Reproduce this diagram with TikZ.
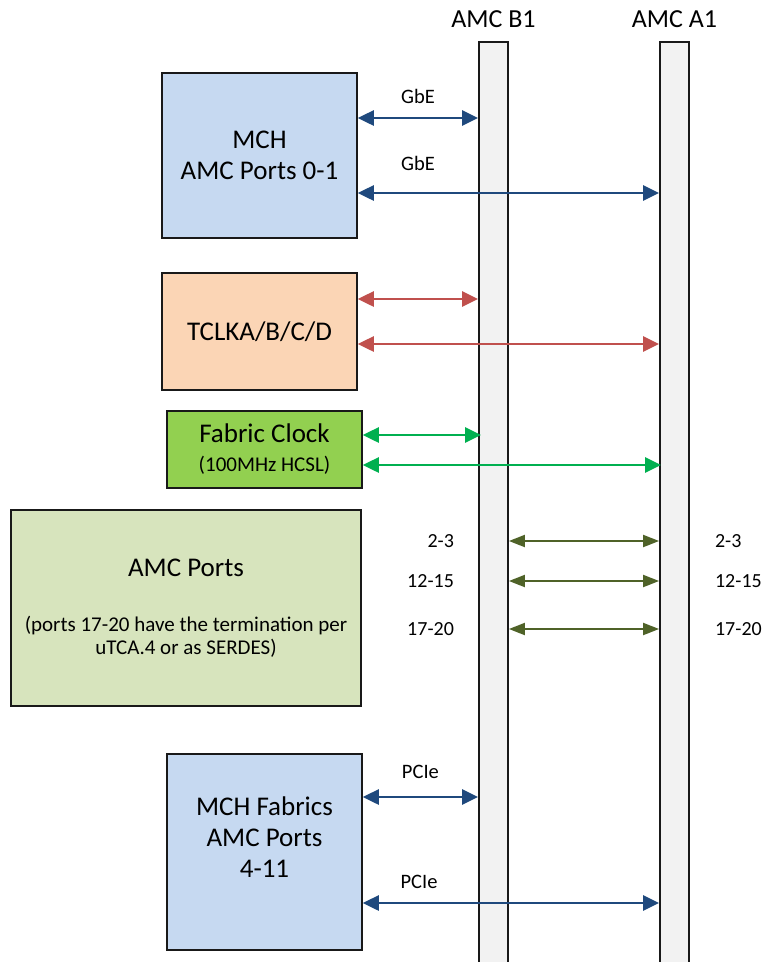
\documentclass[tikz,border=0pt]{standalone}
\usepackage{fontspec}
\setmainfont{Carlito}
\usetikzlibrary{arrows.meta,positioning}

\definecolor{mchblue}{HTML}{C6D9F1}
\definecolor{clkpeach}{HTML}{FBD5B5}
\definecolor{fabgreen}{HTML}{92D050}
\definecolor{portolive}{HTML}{D7E4BD}
\definecolor{slotgray}{HTML}{F2F2F2}
\definecolor{linkblue}{HTML}{1F497D}
\definecolor{linkred}{HTML}{C0504D}
\definecolor{linkgreen}{HTML}{00B050}
\definecolor{linkolive}{HTML}{4F6228}

\tikzset{
        block/.style={draw=black!90, line width=1.5pt, align=center, inner sep=0pt, font=\fontsize{27}{31}\selectfont},
        % MCH boxes
        block_mch/.style={block, fill=mchblue, minimum width=195pt},
        % Clock boxes
        block_tclk/.style={block, fill=clkpeach, minimum width=195pt, minimum height=117pt},
        block_fclk/.style={block, fill=fabgreen, minimum width=195pt, minimum height=77pt},
        % Port box
        block_ports/.style={block, fill=portolive, minimum width=350pt, minimum height=196pt, font=\fontsize{21}{23}\selectfont},
        % Slot bars
        slot/.style={draw=black!90, fill=slotgray, line width=1.8pt, minimum width=29pt, minimum height=940pt, inner sep=0pt},
        slot_name/.style={font=\fontsize{26}{30}\selectfont, inner sep=0pt},
        % Links
        link/.style={{Triangle[length=16pt,width=15pt]}-{Triangle[length=16pt,width=15pt]}, line width=2.5pt},
        link_thin/.style={{Triangle[length=16pt,width=12pt]}-{Triangle[length=16pt,width=12pt]}, line width=2pt},
        link_label/.style={font=\fontsize{20.5}{24}\selectfont, inner sep=0pt, text=black},
        port_num/.style={font=\fontsize{20}{24}\selectfont, inner sep=0pt, text=black}
}

\begin{document}
\begin{tikzpicture}[x=1pt, y=-1pt]
            \useasboundingbox (0,0) rectangle (764,962);

            % slots
            \node[slot] (barB) at (493.5,512) {};
            \node[slot] (barA) at (674.5,512) {};
            \node[slot_name, above=13pt of barB.north] (nameB) {AMC B1};
            \node[slot_name, above=13pt of barA.north] (nameA) {AMC A1};

            % boxes
            \node[block_mch, minimum height=165pt] (mch) at (259.5,155.5) {MCH\\AMC Ports 0-1};
            \node[block_tclk] (tclk) at (259.5,331.5) {TCLKA/B/C/D};
            \node[block_fclk] (fclk) at (264.5,449.5) {Fabric Clock\\[-2pt]{\fontsize{21}{24}\selectfont (100MHz HCSL)}};
            \node[block_ports] (ports) at (186,608) {{\fontsize{27}{31}\selectfont AMC Ports}\\[32pt](ports 17-20 have the termination per\\uTCA.4 or as SERDES)};
            \node[block_mch, minimum height=196pt] (mchfab) at (264.5,852) {};
            \node[block, draw=none] (mchfabtext) at ([yshift=15pt]mchfab.center) {MCH Fabrics\\AMC Ports\\4-11};

            % GbE
            \draw[link, linkblue] (mch.east |- 0,118) -- (barB.west |- 0,118) node[link_label, midway, above=13pt] {GbE};
            \draw[link, linkblue] (mch.east |- 0,193) -- (barA.west |- 0,193) node[link_label, pos=0.2, above=21pt] {GbE};

            % TCLK
            \draw[link, linkred] (tclk.east |- 0,299) -- (barB.west |- 0,299);
            \draw[link, linkred] (tclk.east |- 0,344) -- (barA.west |- 0,344);

            % fabric clock
            \draw[link, linkgreen] (fclk.east |- 0,435) -- ([xshift=3pt]barB.west |- 0,435);
            \draw[link, linkgreen] (fclk.east |- 0,465) -- ([xshift=2pt]barA.west |- 0,465);

            % AMC ports
            \draw[link_thin, linkolive] (barB.east |- 0,541) -- (barA.west |- 0,541)
                node[port_num, at start, left=54pt] {2-3} node[port_num, at end, right=55pt] {2-3};
            \draw[link_thin, linkolive] (barB.east |- 0,581) -- (barA.west |- 0,581)
                node[port_num, at start, left=54pt] {12-15} node[port_num, at end, right=55pt] {12-15};
            \draw[link_thin, linkolive] (barB.east |- 0,629) -- (barA.west |- 0,629)
                node[port_num, at start, left=54pt] {17-20} node[port_num, at end, right=55pt] {17-20};

            % PCIe
            \draw[link, linkblue] (mchfab.east |- 0,797) -- (barB.west |- 0,797) node[link_label, midway, above=17pt] {PCIe};
            \draw[link, linkblue] (mchfab.east |- 0,903) -- (barA.west |- 0,903) node[link_label, pos=0.19, above=13pt] {PCIe};
\end{tikzpicture}
\end{document}
